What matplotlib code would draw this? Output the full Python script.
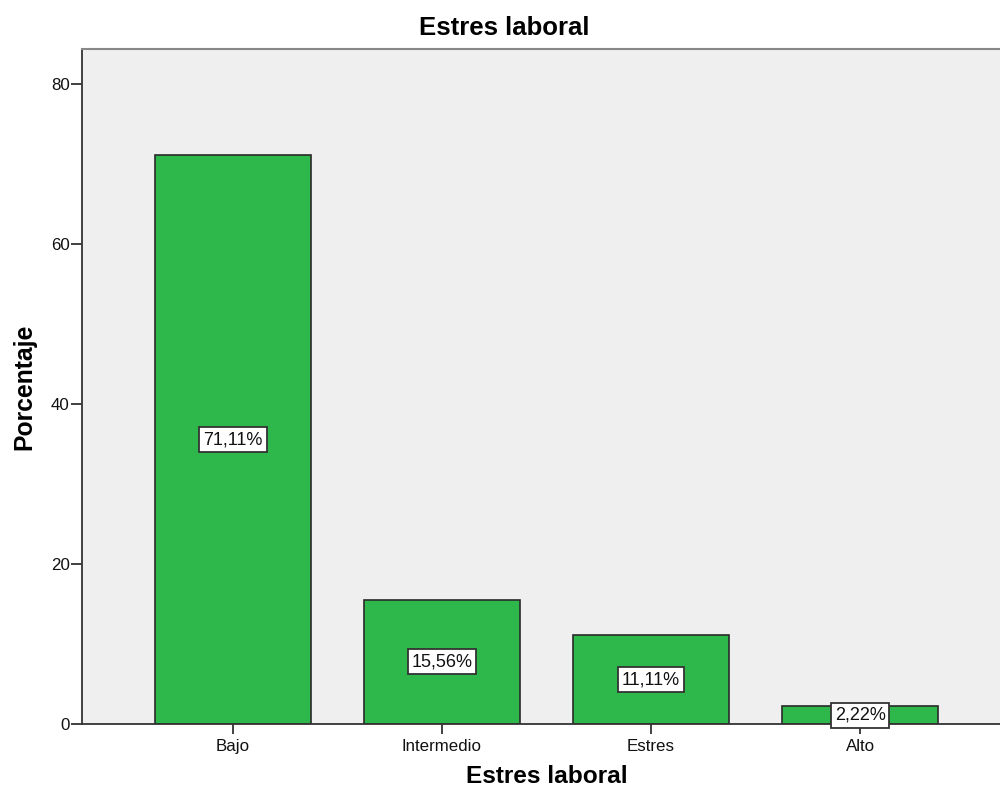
import matplotlib
matplotlib.use("Agg")
import matplotlib.pyplot as plt

categories = ["Bajo", "Intermedio", "Estres", "Alto"]
percentages = [71.11, 15.56, 11.11, 2.22]
value_labels = ["71,11%", "15,56%", "11,11%", "2,22%"]
y_ticks = [0, 20, 40, 60, 80]

plt.rcParams["font.family"] = ["Liberation Sans", "DejaVu Sans"]

fig = plt.figure(figsize=(10, 7.98), dpi=100)
ax = fig.add_axes([0.082, 0.0927, 0.929, 0.8459])
ax.set_facecolor("#efefef")

x = list(range(len(categories)))
ax.bar(x, percentages, width=0.746, color="#2eb84b", edgecolor="#2a2a2a",
       linewidth=1.2, zorder=2)

for xi, val, lab in zip(x, percentages, value_labels):
    ax.text(xi, val / 2, lab, ha="center", va="center", fontsize=13,
            color="#111111", zorder=3,
            bbox=dict(boxstyle="square,pad=0.22", facecolor="white",
                      edgecolor="#333333", linewidth=1.3))

ax.set_xlim(-0.722, 3.722)
ax.set_ylim(0, 84.375)
ax.set_xticks(x)
ax.set_xticklabels(categories, fontsize=12.2)
ax.set_yticks(y_ticks)
ax.set_yticklabels([str(t) for t in y_ticks], fontsize=12.2)
ax.tick_params(axis="y", direction="out", length=8, width=1.3,
               color="#333333", labelcolor="#111111", pad=1)
ax.tick_params(axis="x", direction="out", length=7.5, width=1.3,
               color="#333333", labelcolor="#111111", pad=3)

for side in ("left", "bottom"):
    ax.spines[side].set_color("#333333")
    ax.spines[side].set_linewidth(1.3)
ax.spines["top"].set_color("#888888")
ax.spines["top"].set_linewidth(1.5)
ax.spines["right"].set_visible(False)

fig.text(0.504, 1 - 28 / 798, "Estres laboral", ha="center", va="center",
         fontsize=18.5, fontweight="bold")
ax.set_xlabel("Estres laboral", fontsize=17.6, fontweight="bold", labelpad=8)
ax.set_ylabel("Porcentaje", fontsize=17.8, fontweight="bold", labelpad=10)

fig.savefig("out.png", dpi=100)
